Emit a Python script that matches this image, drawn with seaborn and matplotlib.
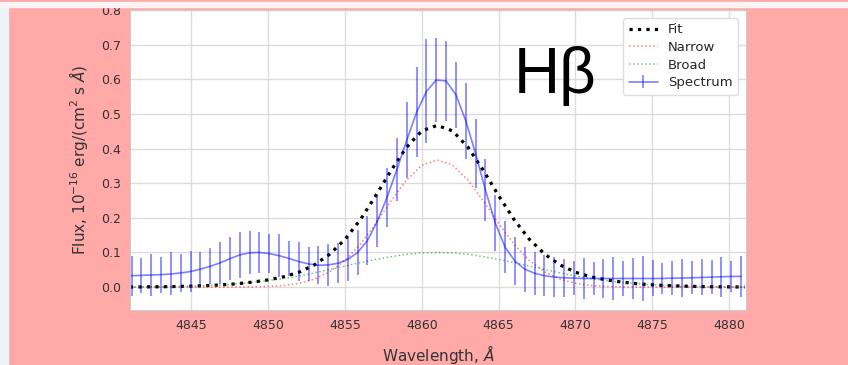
import numpy as np
import seaborn as sns
import matplotlib.pyplot as plt
from matplotlib.patches import Rectangle

# model grid (1 A steps) and the two gaussian components
model_wl = [4841, 4842, 4843, 4844, 4845, 4846, 4847, 4848, 4849, 4850,
            4851, 4852, 4853, 4854, 4855, 4856, 4857, 4858, 4859, 4860,
            4861, 4862, 4863, 4864, 4865, 4866, 4867, 4868, 4869, 4870,
            4871, 4872, 4873, 4874, 4875, 4876, 4877, 4878, 4879, 4880, 4881]
narrow = [0.0, 0.0, 0.0, 0.0, 0.0, 0.0, 0.0001, 0.0002, 0.0007, 0.0019,
          0.0048, 0.011, 0.023, 0.044, 0.077, 0.124, 0.184, 0.249, 0.309, 0.352,
          0.367, 0.352, 0.309, 0.249, 0.184, 0.124, 0.077, 0.044, 0.023, 0.011,
          0.0048, 0.0019, 0.0007, 0.0002, 0.0001, 0.0, 0.0, 0.0, 0.0, 0.0, 0.0]
broad = [0.0004, 0.0007, 0.0011, 0.0018, 0.0029, 0.0044, 0.0066, 0.0096, 0.014, 0.019,
         0.025, 0.032, 0.041, 0.051, 0.061, 0.071, 0.080, 0.088, 0.095, 0.099,
         0.100, 0.099, 0.095, 0.088, 0.080, 0.071, 0.061, 0.051, 0.041, 0.032,
         0.025, 0.019, 0.014, 0.0096, 0.0066, 0.0044, 0.0029, 0.0018, 0.0011, 0.0007, 0.0004]

# observed spectrum
spec_wl = [4841.10, 4841.74, 4842.38, 4843.02, 4843.66, 4844.30, 4844.94, 4845.58,
           4846.22, 4846.86, 4847.50, 4848.14, 4848.78, 4849.42, 4850.06, 4850.70,
           4851.34, 4851.98, 4852.62, 4853.26, 4853.90, 4854.54, 4855.18, 4855.82,
           4856.46, 4857.10, 4857.74, 4858.38, 4859.02, 4859.66, 4860.30, 4860.94,
           4861.58, 4862.22, 4862.86, 4863.50, 4864.14, 4864.78, 4865.42, 4866.06,
           4866.70, 4867.34, 4867.98, 4868.62, 4869.26, 4869.90, 4870.54, 4871.18,
           4871.82, 4872.46, 4873.10, 4873.74, 4874.38, 4875.02, 4875.66, 4876.30,
           4876.94, 4877.58, 4878.22, 4878.86, 4879.50, 4880.14, 4880.78]
spec_flux = [0.033, 0.034, 0.035, 0.036, 0.038, 0.041, 0.045, 0.052,
             0.060, 0.070, 0.082, 0.093, 0.099, 0.100, 0.097, 0.091,
             0.083, 0.074, 0.067, 0.063, 0.064, 0.069, 0.080, 0.100,
             0.135, 0.190, 0.260, 0.340, 0.425, 0.505, 0.565, 0.598,
             0.595, 0.555, 0.480, 0.385, 0.280, 0.185, 0.115, 0.075,
             0.052, 0.040, 0.033, 0.029, 0.027, 0.026, 0.025, 0.025,
             0.025, 0.025, 0.025, 0.025, 0.025, 0.025, 0.025, 0.026,
             0.026, 0.027, 0.028, 0.029, 0.030, 0.031, 0.031]
spec_err = [0.058, 0.050, 0.060, 0.052, 0.062, 0.055, 0.058, 0.048,
            0.052, 0.060, 0.062, 0.066, 0.062, 0.058, 0.055, 0.062,
            0.050, 0.056, 0.050, 0.055, 0.060, 0.058, 0.062, 0.065,
            0.070, 0.075, 0.085, 0.090, 0.110, 0.130, 0.150, 0.120,
            0.115, 0.095, 0.110, 0.100, 0.090, 0.080, 0.075, 0.070,
            0.065, 0.062, 0.060, 0.058, 0.055, 0.050, 0.060, 0.048,
            0.055, 0.062, 0.050, 0.058, 0.064, 0.052, 0.045, 0.050,
            0.055, 0.048, 0.052, 0.050, 0.058, 0.045, 0.060]

fit = np.array(narrow) + np.array(broad)

sns.set_style("white")
plt.rcParams['font.family'] = ['DejaVu Sans']

fig = plt.figure(figsize=(8.48, 3.65), dpi=100, facecolor="#ffa9a9")
# strips of the page around the screenshot
fig.patches.append(Rectangle((0, 0), 8 / 848, 358 / 365, transform=fig.transFigure,
                             color="#eef3fa", zorder=0))
fig.patches.append(Rectangle((0, 358 / 365), 1, 5 / 365, transform=fig.transFigure,
                             color="#fbf3f3", zorder=0))

ax = fig.add_axes([130 / 848, 1 - 310 / 365, 616 / 848, 300 / 365])
ax.set_facecolor("white")

sns.lineplot(x=model_wl, y=fit, ax=ax, color="black", linestyle=":", linewidth=2.3, label="Fit")
sns.lineplot(x=model_wl, y=narrow, ax=ax, color="red", alpha=0.5, linestyle=":", linewidth=1.1, label="Narrow")
sns.lineplot(x=model_wl, y=broad, ax=ax, color="green", alpha=0.5, linestyle=":", linewidth=1.1, label="Broad")
ax.errorbar(spec_wl, spec_flux, yerr=spec_err, color="blue", alpha=0.5, linewidth=1.2,
            elinewidth=1.2, label="Spectrum")

ax.set_xlim(4841, 4881.1)
ax.set_ylim(-0.066, 0.8)
ax.set_xticks([4845, 4850, 4855, 4860, 4865, 4870, 4875, 4880])
ax.set_yticks([0.0, 0.1, 0.2, 0.3, 0.4, 0.5, 0.6, 0.7, 0.8])
ax.grid(True, color="#dcdcdc", linewidth=1)
ax.tick_params(axis="both", labelsize=9, labelcolor="#333333", color="#999999",
               length=3, direction="out")
for spine in ax.spines.values():
    spine.set_color("#cccccc")
    spine.set_linewidth(0.8)

ax.set_xlabel(r"Wavelength, $\AA$", fontsize=11, color="#333333", labelpad=8)
ax.set_ylabel(r"Flux, 10$^{-16}$ erg/(cm$^2$ s $\AA$)", fontsize=11, color="#333333", labelpad=8)

ax.text(4866.0, 0.56, "Hβ", fontsize=46, family=["Liberation Sans", "DejaVu Sans"],
        color="black", va="baseline", ha="left")

ax.legend(loc="upper right", fontsize=9.5, frameon=True, framealpha=1,
          edgecolor="#dddddd", labelspacing=0.36, handlelength=2.2,
          borderaxespad=0.6)

fig.savefig("out.png", dpi=100, facecolor=fig.get_facecolor())
